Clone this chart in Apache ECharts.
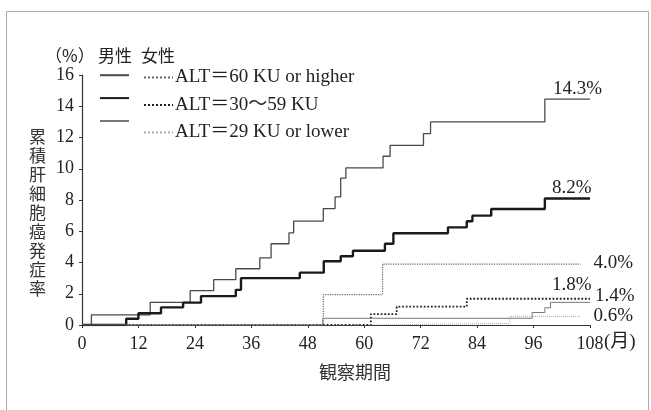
<!DOCTYPE html>
<html style="height: 100%">
<head>
    <meta charset="utf-8">
    <script src="https://cdn.jsdelivr.net/npm/echarts@6/dist/echarts.min.js"></script>
</head>
<body style="height: 100%; margin: 0; background: #fff">
    <div id="main" style="width: 651px; height: 410px"></div>
    <script type="text/javascript">
    var chartDom = document.getElementById('main');
    var myChart = echarts.init(chartDom);

    // month / cumulative incidence (%) pairs
    var m60X = [0, 2, 14.5, 23, 28, 32.7, 37.8, 40.2, 44, 45, 51.3, 53.8, 55, 56.1, 64, 65.5, 72.6, 74.1, 98.4, 108];
    var m60Y = [0, 0.65, 1.45, 2.2, 2.9, 3.6, 4.3, 5.2, 5.9, 6.65, 7.45, 8.2, 9.4, 10.05, 10.8, 11.5, 12.25, 13, 14.45, 14.45];
    var m30X = [0, 9.4, 12, 16.8, 21.5, 25.3, 32.7, 33.8, 46.3, 51.4, 55, 57.6, 64.4, 66.2, 77.8, 81.8, 83, 87, 98.4, 108];
    var m30Y = [0, 0.4, 0.75, 1.13, 1.43, 1.85, 2.25, 3.0, 3.35, 4.08, 4.4, 4.75, 5.2, 5.87, 6.25, 6.64, 7.0, 7.42, 8.1, 8.1];
    var m29X = [0, 51.2, 95.7, 98.4, 99.6, 108];
    var m29Y = [0, 0.43, 0.8, 1.1, 1.45, 1.45];
    var f60X = [0, 51.3, 63.9, 106];
    var f60Y = [0, 1.95, 3.9, 3.9];
    var f30X = [0, 61.4, 66.9, 81.8, 108];
    var f30Y = [0, 0.7, 1.17, 1.68, 1.68];
    var f29X = [0, 61.5, 91, 106];
    var f29Y = [0, 0.1, 0.55, 0.55];

    var legendNames = ['ALT＝60 KU or higher', 'ALT＝30〜59 KU', 'ALT＝29 KU or lower'];
    var endLabels = ['14.3%', '8.2%', '1.4%', '4.0%', '1.8%', '0.6%'];
    var yTitle = '累積肝細胞癌発症率';

    var serif = '"Liberation Serif", "DejaVu Serif", "Noto Sans CJK JP", serif';
    var cjk = '"Noto Sans CJK JP", sans-serif';

    function pairs(xs, ys) {
        return xs.map(function (x, i) { return [x, ys[i]]; });
    }

    function mkSeries(name, xs, ys, lab, off, color, width, type) {
        return {
            name: name,
            type: 'line',
            step: 'end',
            symbol: 'none',
            z: type === 'solid' ? 3 : 2,
            lineStyle: { color: color, width: width, type: type },
            itemStyle: { color: color },
            endLabel: {
                show: true, formatter: lab, offset: off, distance: 5,
                fontFamily: serif, fontSize: 19, color: '#222'
            },
            data: pairs(xs, ys)
        };
    }

    var option = {
        backgroundColor: '#fff',
        animation: false,
        grid: { left: 82, right: 61, top: 75, bottom: 85 },
        legend: [
            {
                data: ['M60', 'M30', 'M29'],
                orient: 'vertical',
                left: 99, top: 68, padding: 0,
                itemWidth: 29, itemHeight: 18, itemGap: 8.5,
                itemStyle: { opacity: 0 },
                formatter: function () { return ''; },
                textStyle: { lineHeight: 18, fontSize: 19 },
                selectedMode: false
            },
            {
                data: ['F60', 'F30', 'F29'],
                orient: 'vertical',
                left: 143, top: 68, padding: 0,
                itemWidth: 29, itemHeight: 18, itemGap: 8.5,
                itemStyle: { opacity: 0 },
                formatter: function (n) {
                    return legendNames[['F60', 'F30', 'F29'].indexOf(n)];
                },
                textStyle: { fontFamily: serif, fontSize: 19, color: '#222', lineHeight: 18, padding: [0, 0, 0, -3] },
                selectedMode: false
            }
        ],
        xAxis: {
            type: 'value',
            min: 0, max: 108, interval: 12,
            name: '観察期間',
            nameLocation: 'middle',
            nameGap: 38,
            nameTextStyle: { fontFamily: cjk, fontSize: 18, color: '#333', padding: [0, 0, 0, 38] },
            axisLine: { lineStyle: { color: '#333', width: 1.2 } },
            axisTick: { length: 3, lineStyle: { color: '#333' } },
            splitLine: { show: false },
            axisLabel: { fontFamily: serif, fontSize: 18, color: '#222', margin: 10 }
        },
        yAxis: {
            type: 'value',
            min: 0, max: 16, interval: 2,
            axisLine: { show: true, lineStyle: { color: '#333', width: 1.2 } },
            axisTick: { show: true, length: 3, lineStyle: { color: '#333' } },
            splitLine: { show: false },
            axisLabel: { fontFamily: serif, fontSize: 18, color: '#222', margin: 8 }
        },
        graphic: [
            { type: 'rect', left: 4, top: 9, shape: { width: 642, height: 410 },
              style: { fill: 'none', stroke: '#aaa', lineWidth: 1 }, silent: true },
            { type: 'text', left: 29, top: 127,
              style: { text: yTitle.split('').join('\n'), font: '17px ' + cjk, lineHeight: 19, fill: '#333' } },
            { type: 'text', left: 45, top: 47, style: { text: '（%）', font: '17px ' + cjk, fill: '#222' } },
            { type: 'text', left: 98, top: 47, style: { text: '男性', font: '17px ' + cjk, fill: '#222' } },
            { type: 'text', left: 141, top: 47, style: { text: '女性', font: '17px ' + cjk, fill: '#222' } },
            { type: 'text', left: 604, top: 333, style: { text: '(月)', font: '19px ' + serif, fill: '#222' } }
        ],
        series: [
            mkSeries('M60', m60X, m60Y, endLabels[0], [-42, -10], '#4a4a4a', 1.3, 'solid'),
            mkSeries('M30', m30X, m30Y, endLabels[1], [-43, -10], '#1a1a1a', 2.4, 'solid'),
            mkSeries('M29', m29X, m29Y, endLabels[2], [0, -6], '#777', 1, 'solid'),
            mkSeries('F60', f60X, f60Y, endLabels[3], [8, -1], '#666', 1.2, 'dotted'),
            mkSeries('F30', f30X, f30Y, endLabels[4], [-43, -14], '#222', 1.8, 'dotted'),
            mkSeries('F29', f29X, f29Y, endLabels[5], [8, 0], '#aaa', 1, 'dotted')
        ]
    };

    myChart.setOption(option);
    </script>
</body>
</html>
